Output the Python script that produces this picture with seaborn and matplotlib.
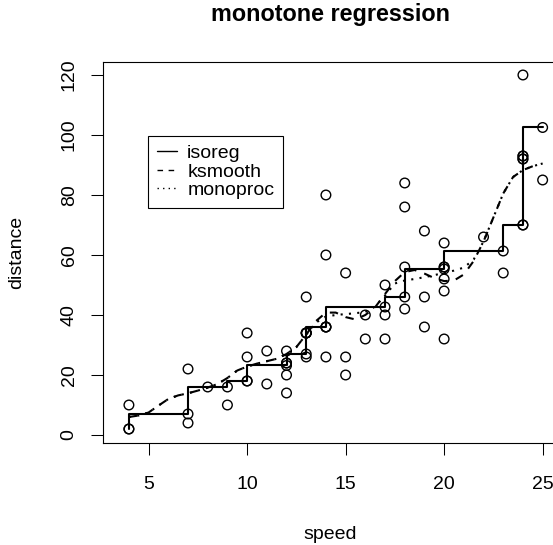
import numpy as np
import pandas as pd
import matplotlib
matplotlib.use("Agg")
import matplotlib.pyplot as plt
from matplotlib.lines import Line2D
import seaborn as sns

# --- data (cars) ---
speed = [4, 4, 7, 7, 8, 9, 10, 10, 10, 11, 11, 12, 12, 12, 12, 13, 13, 13, 13,
         14, 14, 14, 14, 15, 15, 15, 16, 16, 17, 17, 17, 18, 18, 18, 18, 19, 19,
         19, 20, 20, 20, 20, 20, 22, 23, 24, 24, 24, 24, 25]
dist = [2, 10, 4, 22, 16, 10, 18, 26, 34, 17, 28, 14, 20, 24, 28, 26, 34, 34, 46,
        26, 36, 60, 80, 20, 26, 54, 32, 40, 32, 40, 50, 42, 56, 76, 84, 36, 46,
        68, 32, 48, 52, 56, 64, 66, 54, 70, 92, 93, 120, 85]

# isotonic regression fitted values
iso_fit = [2, 7, 7, 16, 16, 16, 18, 23.17, 23.17, 23.17, 23.17, 23.17, 23.17, 24,
           27, 27, 34, 34, 36, 36, 36, 42.67, 42.67, 42.67, 42.67, 42.67, 42.67,
           42.67, 42.67, 42.67, 46, 46, 55.33, 55.33, 55.33, 55.33, 55.33, 55.33,
           55.33, 55.33, 55.33, 56, 61.33, 61.33, 61.33, 70, 92, 93, 102.5, 102.5]

# knots of the isotonic fit (circles drawn on the step line)
knot_x = [4, 7, 9, 10, 12, 12, 13, 13, 13, 14, 14, 17, 18, 20, 20, 23, 24, 24, 24, 25]
knot_y = [2, 7, 16, 18, 23.17, 24, 27, 34, 34, 36, 36, 42.67, 46, 55.33, 56,
          61.33, 70, 92, 93, 102.5]

# kernel smooth (dashed) and monotone smooth (dotted)
sm_x = [4, 4.5, 5, 5.5, 6, 6.5, 7, 7.5, 8, 8.5, 9, 9.5, 10, 10.5, 11, 11.5, 12,
        12.5, 13, 13.5, 14, 14.5, 15, 15.5, 16, 16.5, 17, 17.5, 18, 18.5, 19,
        19.5, 20, 20.5, 21, 21.5, 22, 22.5, 23, 23.5, 24, 24.5, 25]
ks_y = [6.0, 6.5, 7.5, 9.8, 12.0, 13.2, 13.9, 14.8, 15.8, 17.0, 19.0, 21.5, 22.8,
        23.8, 24.6, 25.4, 27.0, 29.3, 33.5, 38.0, 40.8, 40.8, 39.3, 38.5, 40.0,
        42.6, 47.0, 51.3, 54.3, 55.0, 53.8, 52.3, 51.3, 51.5, 53.5, 58.0, 64.5,
        72.5, 80.5, 86.0, 88.3, 89.6, 90.5]
mp_y = [6.0, 6.5, 7.5, 9.8, 12.0, 13.2, 13.9, 14.8, 15.8, 17.0, 19.0, 21.5, 22.8,
        23.8, 24.6, 25.4, 27.0, 29.3, 33.5, 37.5, 39.5, 40.0, 40.3, 40.6, 41.0,
        42.8, 46.5, 50.5, 51.5, 52.0, 52.6, 53.3, 54.0, 54.8, 55.8, 58.5, 64.5,
        72.5, 80.5, 86.0, 88.3, 89.6, 90.5]

legend_labels = ["isoreg", "ksmooth", "monoproc"]

# --- style ---
sns.set_theme(style="ticks")
plt.rcParams["font.family"] = ["Liberation Sans", "DejaVu Sans"]
plt.rcParams["axes.edgecolor"] = "black"
plt.rcParams["axes.labelcolor"] = "black"
plt.rcParams["text.color"] = "black"
plt.rcParams["xtick.color"] = "black"
plt.rcParams["ytick.color"] = "black"

W, H = 553, 545
fig = plt.figure(figsize=(W / 100, H / 100), dpi=100)
ax = fig.add_axes([103.3 / W, (H - 443.3) / H, (558 - 103.3) / W, (443.3 - 61.7) / H])

df_pts = pd.DataFrame({"speed": speed + knot_x, "dist": dist + knot_y})
sns.scatterplot(data=df_pts, x="speed", y="dist", ax=ax, marker="o", s=48,
                color="black", linewidth=1.0, legend=False)
for coll in ax.collections:
    coll.set_facecolor("none")
    coll.set_edgecolor("black")
    coll.set_linewidth(1.0)

df_iso = pd.DataFrame({"x": speed, "y": iso_fit})
sns.lineplot(data=df_iso, x="x", y="y", ax=ax, estimator=None, sort=False,
             drawstyle="steps-pre", color="black", linewidth=1.5)

df_sm = pd.DataFrame({"x": sm_x, "ks": ks_y, "mp": mp_y})
sns.lineplot(data=df_sm, x="x", y="ks", ax=ax, estimator=None, sort=False,
             color="black", linewidth=1.5, dashes=False, linestyle=(0, (4, 4)))
sns.lineplot(data=df_sm, x="x", y="mp", ax=ax, estimator=None, sort=False,
             color="black", linewidth=1.5, dashes=False, linestyle=(0, (1, 3)))

ax.set_xlim(2.70, 25.78)
ax.set_ylim(-2.77, 124.43)
ax.set_xticks([5, 10, 15, 20, 25])
ax.set_yticks([0, 20, 40, 60, 80, 100, 120])
ax.tick_params(axis="both", direction="out", length=8.4, width=0.75,
               labelsize=14, colors="black", labelcolor="black")
ax.tick_params(axis="x", pad=15)
ax.tick_params(axis="y", pad=10, labelrotation=90)
for lab in ax.get_yticklabels():
    lab.set_va("center")

for sp in ax.spines.values():
    sp.set_visible(True)
    sp.set_linewidth(0.8)
    sp.set_color("black")

ax.set_xlabel("speed", fontsize=14, va="center", color="black")
ax.xaxis.set_label_coords(0.5, (443.3 - 534.5) / (443.3 - 61.7))
ax.set_ylabel("distance", fontsize=14, va="center", color="black")
ax.yaxis.set_label_coords((17 - 103.3) / (558 - 103.3), 0.5)
ax.set_title("monotone regression", fontsize=16.8, fontweight="bold",
             y=(443.3 - 14) / (443.3 - 61.7), va="center", pad=0, color="black")

handles = [Line2D([], [], color="black", lw=1.0, linestyle="-"),
           Line2D([], [], color="black", lw=1.0, linestyle=(0, (4, 4))),
           Line2D([], [], color="black", lw=1.0, linestyle=(0, (1, 3)))]
leg = ax.legend(handles, legend_labels, loc="upper left",
                bbox_to_anchor=(148.3 / W, 1 - 135.7 / H),
                bbox_transform=fig.transFigure, borderaxespad=0,
                fontsize=14, frameon=True, fancybox=False, shadow=False,
                handlelength=1.05, handletextpad=0.5, borderpad=0.45,
                labelspacing=0.05, labelcolor="black")
leg.get_frame().set_edgecolor("black")
leg.get_frame().set_linewidth(0.8)
leg.get_frame().set_facecolor("white")
leg.get_frame().set_alpha(1)

fig.savefig("out.png", dpi=100)
